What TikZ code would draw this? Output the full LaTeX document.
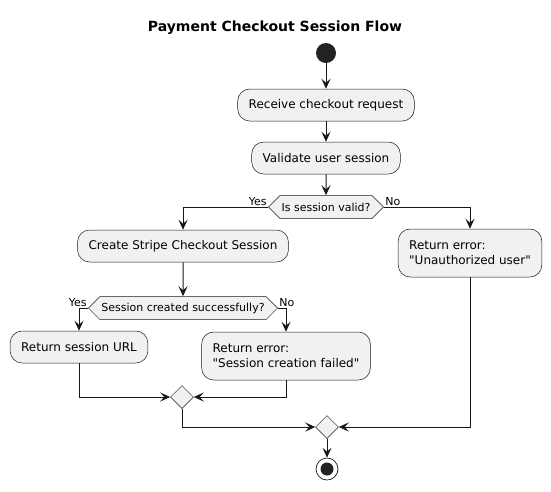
\documentclass[tikz,border=0pt]{standalone}
\usepackage{fontspec}
\setmainfont{DejaVu Sans}
\usepackage{xcolor}
\usepackage{tikz}
\usetikzlibrary{shapes,shapes.geometric,shapes.symbols,arrows.meta,positioning,calc}

\definecolor{boxfill}{HTML}{F1F1F1}
\definecolor{linecol}{HTML}{181818}
\definecolor{dotfill}{HTML}{222222}

\tikzset{
    action/.style={draw=linecol, line width=0.5pt, fill=boxfill, rounded corners=12pt, inner xsep=11pt, minimum height=32pt, align=left, font=\fontsize{12}{15}\selectfont},
    decision/.style={signal, signal to=west and east, signal pointer angle=90, draw=linecol, line width=0.5pt, fill=boxfill, inner xsep=1.5pt, minimum height=23pt, font=\fontsize{11}{13}\selectfont},
    merge/.style={diamond, draw=linecol, line width=0.5pt, fill=boxfill, minimum size=23pt, inner sep=0pt},
    flow/.style={draw=linecol, line width=1pt, -{Stealth[length=10pt, width=9pt, inset=4pt]}},
    branch/.style={draw=none, inner sep=1pt, font=\fontsize{11}{13}\selectfont}
}

\begin{document}
\begin{tikzpicture}[x=1pt, y=-1pt]
    \useasboundingbox (0,0) rectangle (551,491);
    \node[font=\fontsize{14}{17}\selectfont\bfseries] (title) at (275, 28) {Payment Checkout Session Flow};

    \node[circle, fill=dotfill, minimum size=20pt, inner sep=0pt] (start) at (326, 53) {};
    \node[action] (receive) at (326, 105) {Receive checkout request};
    \node[action] (validate) at (326, 158) {Validate user session};
    \node[decision] (valid) at (326, 207) {Is session valid?};

    \node[action] (create) at (183, 246) {Create Stripe Checkout Session};
    \node[action, minimum height=48pt] (unauth) at (470, 253) {Return error:\\\textquotedbl Unauthorized user\textquotedbl};

    \node[decision] (created) at (183, 308) {Session created successfully?};
    \node[action] (url) at (79, 347) {Return session URL};
    \node[action, minimum height=48pt] (failed) at (286, 356) {Return error:\\\textquotedbl Session creation failed\textquotedbl};

    \node[merge] (merge1) at (182, 397) {};
    \node[merge] (merge2) at (327, 427) {};
    \node[circle, draw=linecol, line width=0.7pt, fill=white, minimum size=22pt, inner sep=0pt,
          path picture={\fill[dotfill] (path picture bounding box.center) circle (6.5pt);}] (stop) at (327, 469) {};

    \draw[flow] (start) -- (receive);
    \draw[flow] (receive) -- (validate);
    \draw[flow] (validate) -- (valid);

    \draw[flow] (valid.west) -| node[branch, pos=0, anchor=south east] {Yes} (create);
    \draw[flow] (valid.east) -| node[branch, pos=0, anchor=south west] {No} (unauth);
    \draw[flow] (create) -- (created);

    \draw[flow] (created.west) -| node[branch, pos=0, anchor=south east] {Yes} (url);
    \draw[flow] (created.east) -| node[branch, pos=0, anchor=south west] {No} (failed);

    \draw[flow] (url.south) |- (merge1.west);
    \draw[flow] (failed.south) |- (merge1.east);
    \draw[flow] (merge1.south) |- (merge2.west);
    \draw[flow] (unauth.south) |- (merge2.east);
    \draw[flow] (merge2) -- (stop);
\end{tikzpicture}
\end{document}
